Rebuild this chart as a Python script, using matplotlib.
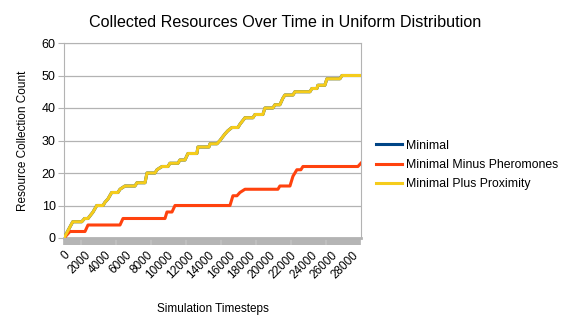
import numpy as np
import matplotlib
matplotlib.use("Agg")
import matplotlib.pyplot as plt

plt.rcParams['font.family'] = ['Liberation Sans', 'DejaVu Sans']

# step vertices (timestep, collected count)
prox_t = [0, 850, 1720, 2000, 2330, 2820, 3180, 3790, 3980, 4270, 4630, 5240, 5440, 5920,
          6890, 7090, 7870, 8060, 8840, 9030, 9520, 10100, 10290, 11070, 11260, 11750, 12040,
          12910, 13010, 14080, 14180, 14860, 15150, 15630, 15920, 16310, 16900, 17090, 17580,
          18350, 18550, 19320, 19520, 20290, 20490, 20970, 21260, 21460, 22240, 22430, 23890,
          24080, 24570, 24660, 25340, 25540, 26800, 27000, 28840]
prox_v = [0, 5, 5, 6, 6, 8, 10, 10, 11, 12, 14, 14, 15, 16,
          16, 17, 17, 20, 20, 21, 22, 22, 23, 23, 24, 24, 26,
          26, 28, 28, 29, 29, 30, 32, 33, 34, 34, 35, 37,
          37, 38, 38, 40, 40, 41, 41, 43, 44, 44, 45, 45,
          46, 46, 47, 47, 49, 49, 50, 50]

# Minimal is hidden under Minimal Plus Proximity in the chart
minimal_t = list(prox_t)
minimal_v = list(prox_v)

minus_t = [0, 290, 580, 2040, 2330, 5440, 5730, 9810, 10000, 10490, 10780, 16120, 16410,
           16800, 17090, 17580, 20780, 20970, 21950, 22240, 22620, 23010, 23210, 28550, 28840]
minus_v = [0, 1, 2, 2, 4, 4, 6, 6, 8, 8, 10, 10, 13,
           13, 14, 15, 15, 16, 16, 19, 21, 21, 22, 22, 23]

xticks = list(range(0, 28001, 2000))
yticks = [0, 10, 20, 30, 40, 50, 60]

fig = plt.figure(figsize=(5.67, 3.25), dpi=100)
ax = fig.add_axes([64/567, 87/325, 297/567, 195/325])

ax.plot(minimal_t, minimal_v, color='#004586', lw=2.2, label='Minimal', zorder=3)
ax.plot(minus_t, minus_v, color='#ff420e', lw=2.2, label='Minimal Minus Pheromones', zorder=4)
ax.plot(prox_t, prox_v, color='#f5cc1c', lw=2.2, label='Minimal Plus Proximity', zorder=5)

ax.set_xlim(0, 28850)
ax.set_ylim(0, 60)
ax.set_yticks(yticks)
ax.set_xticks(xticks)
ax.set_xticklabels([str(x) for x in xticks], rotation=45, ha='right', rotation_mode='anchor')
# dense category ticks form the gray band under the axis
ax.set_xticks(np.arange(0, 28850, 100), minor=True)
ax.tick_params(axis='x', which='both', length=5, color='#b3b3b3', width=1.2, labelsize=8.5, pad=3)
ax.tick_params(axis='y', length=4, color='#b3b3b3', labelsize=9, pad=2)
ax.grid(axis='y', color='#b3b3b3', lw=0.9)
ax.set_axisbelow(True)
for s in ax.spines.values():
    s.set_color('#b3b3b3')
ax.spines['bottom'].set_linewidth(2)

ax.set_xlabel('Simulation Timesteps', fontsize=8.5, labelpad=16)
ax.set_ylabel('Resource Collection Count', fontsize=8.5, labelpad=9)
fig.suptitle('Collected Resources Over Time in Uniform Distribution', fontsize=11.6, x=0.502, y=0.955)

fig.legend(loc='center left', bbox_to_anchor=(0.658, 0.492), frameon=False, fontsize=8.8,
           handlelength=2.2, handletextpad=0.3, labelspacing=0.6, borderaxespad=0,
           borderpad=0.2)

fig.savefig('out.png', dpi=100)
